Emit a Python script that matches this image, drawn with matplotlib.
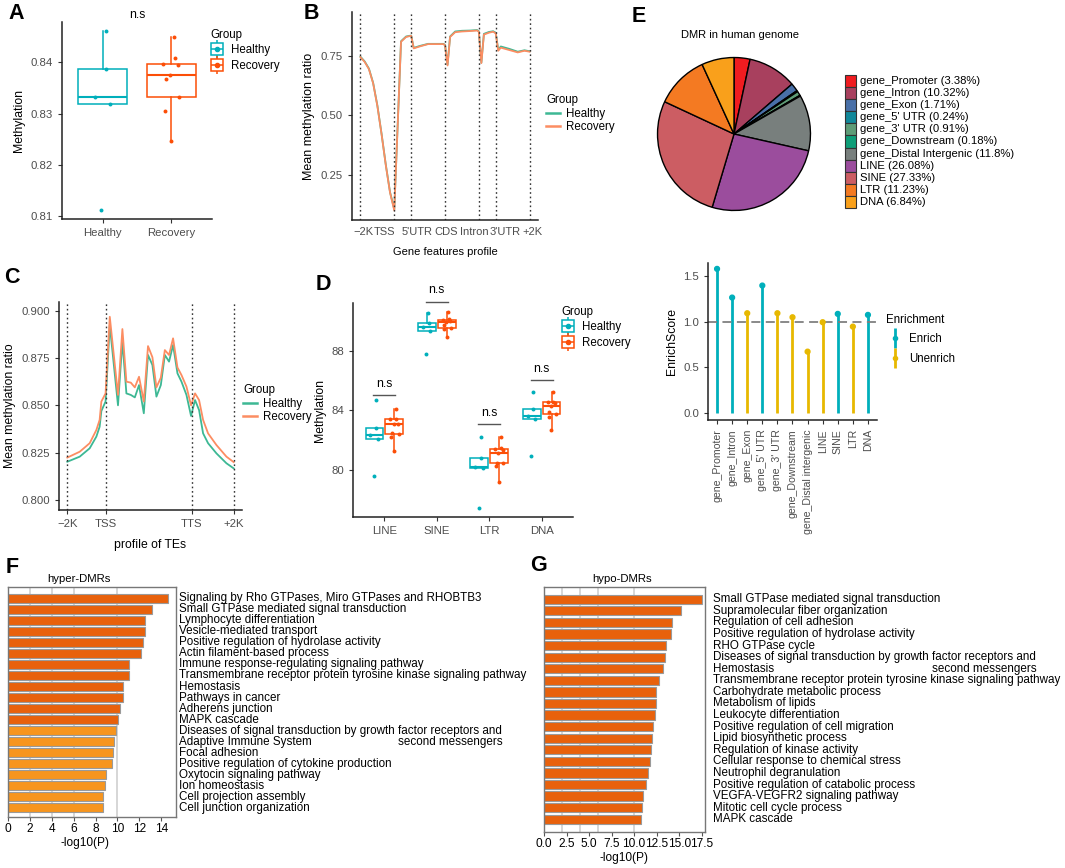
import numpy as np
import matplotlib
matplotlib.use("Agg")
import matplotlib.pyplot as plt
from matplotlib.lines import Line2D
from matplotlib.patches import Rectangle
from matplotlib.legend_handler import HandlerTuple

plt.rcParams['font.family'] = ['Liberation Sans', 'DejaVu Sans']

# ---- data ----
groups = ["Healthy", "Recovery"]
a_healthy = [0.8460, 0.8387, 0.8333, 0.8318, 0.8113]
a_recovery = [0.8448, 0.8408, 0.8397, 0.8395, 0.8375, 0.8368, 0.8332, 0.8305, 0.8247]

b_bounds = [0, 20, 30, 50, 70, 80, 100]
b_ticklabels = ["\u22122K", "TSS", "5'UTR", "CDS", "Intron", "3'UTR", "+2K"]
b_labelpos = [1.8, 14.0, 33.3, 50.6, 67.3, 85.4, 101.8]
b_pos = [0, 2.5, 5, 7.5, 10, 12.5, 15, 17.5, 20, 24, 27, 30, 31.5, 35, 40, 45, 49, 50, 51.5, 53,
         56, 60, 65, 69, 70, 71.5, 73, 76, 78.5, 80, 81.5, 83, 88, 93, 97, 100]
b_recovery = [0.745, 0.725, 0.695, 0.635, 0.54, 0.42, 0.29, 0.175, 0.10, 0.81, 0.83, 0.835, 0.782,
              0.79, 0.80, 0.80, 0.80, 0.795, 0.71, 0.83, 0.85, 0.853, 0.855, 0.857, 0.852, 0.72,
              0.84, 0.848, 0.852, 0.845, 0.772, 0.785, 0.775, 0.765, 0.772, 0.768]
b_healthy = [0.747, 0.727, 0.697, 0.637, 0.542, 0.422, 0.292, 0.177, 0.105, 0.812, 0.832, 0.836, 0.784,
             0.792, 0.801, 0.801, 0.801, 0.797, 0.713, 0.832, 0.853, 0.856, 0.857, 0.859, 0.854, 0.722,
             0.843, 0.851, 0.854, 0.848, 0.775, 0.79, 0.78, 0.768, 0.774, 0.77]

c_ticks = [0, 20, 65, 87]
c_ticklabels = ["\u22122K", "TSS", "TTS", "+2K"]
c_pos = [0, 6.5, 11.7, 15.2, 16.9, 17.8, 20, 22.2, 26.5, 28.8, 30.9, 33.2, 35.3, 37.5, 40, 42.2,
         44.5, 46.6, 48.9, 51, 53.2, 55.3, 57.6, 59.7, 62.3, 64.7, 66.8, 68.9, 71, 73.6, 78, 83.2, 87]
c_recovery = [0.8224, 0.8255, 0.830, 0.837, 0.8423, 0.852, 0.8563, 0.8968, 0.8555, 0.8903, 0.8625,
              0.862, 0.8595, 0.8651, 0.852, 0.8813, 0.8754, 0.8595, 0.8646, 0.8792, 0.8766, 0.8854,
              0.870, 0.866, 0.8599, 0.850, 0.8563, 0.8528, 0.8423, 0.8352, 0.829, 0.8229, 0.820]
c_healthy = [0.8202, 0.8229, 0.8273, 0.8335, 0.8387, 0.847, 0.852, 0.8924, 0.850, 0.884, 0.8563,
             0.8555, 0.8542, 0.8607, 0.8458, 0.8766, 0.8713, 0.8546, 0.8607, 0.8766, 0.8731, 0.8819,
             0.8669, 0.8625, 0.8555, 0.8444, 0.8528, 0.8475, 0.8352, 0.830, 0.8246, 0.8194, 0.8167]

d_classes = ["LINE", "SINE", "LTR", "DNA"]
d_healthy = [[84.7, 82.8, 82.35, 82.06, 79.6],
             [90.53, 89.86, 89.57, 89.35, 87.78],
             [82.24, 80.83, 80.17, 80.11, 77.46],
             [85.22, 84.08, 83.65, 83.43, 80.96]]
d_recovery = [[84.08, 83.45, 83.4, 83.1, 83.07, 82.46, 82.4, 82.24, 81.3],
              [90.58, 90.15, 90.09, 89.97, 89.9, 89.75, 89.52, 89.46, 88.9],
              [82.24, 81.5, 81.41, 81.34, 81.12, 80.5, 80.45, 80.29, 79.17],
              [85.22, 84.59, 84.55, 84.48, 84.3, 83.92, 83.74, 83.58, 82.69]]
d_bracket = [85.0, 91.3, 83.1, 86.05]

pie_labels = ["gene_Promoter", "gene_Intron", "gene_Exon", "gene_5' UTR", "gene_3' UTR",
              "gene_Downstream", "gene_Distal Intergenic", "LINE", "SINE", "LTR", "DNA"]
pie_pct = [3.38, 10.32, 1.71, 0.24, 0.91, 0.18, 11.8, 26.08, 27.33, 11.23, 6.84]
pie_colors = ["#F01C20", "#A8405E", "#4970A8", "#11889A", "#5E9C77", "#0E9E78",
              "#787F7D", "#9B4D9D", "#CC5D63", "#F47A22", "#F9A01B"]

enrich_cats = ["gene_Promoter", "gene_Intron", "gene_Exon", "gene_5' UTR", "gene_3' UTR",
               "gene_Downstream", "gene_Distal intergenic", "LINE", "SINE", "LTR", "DNA"]
enrich_score = [1.576, 1.263, 1.092, 1.394, 1.092, 1.048, 0.673, 0.994, 1.085, 0.946, 1.074]
enrich_state = ["Enrich", "Enrich", "Unenrich", "Enrich", "Unenrich", "Unenrich", "Unenrich",
                "Unenrich", "Enrich", "Unenrich", "Enrich"]

hyper_terms = ["Signaling by Rho GTPases, Miro GTPases and RHOBTB3",
               "Small GTPase mediated signal transduction",
               "Lymphocyte differentiation",
               "Vesicle-mediated transport",
               "Positive regulation of hydrolase activity",
               "Actin filament-based process",
               "Immune response-regulating signaling pathway",
               "Transmembrane receptor protein tyrosine kinase signaling pathway",
               "Hemostasis",
               "Pathways in cancer",
               "Adherens junction",
               "MAPK cascade",
               "Diseases of signal transduction by growth factor receptors and\nsecond messengers",
               "Adaptive Immune System",
               "Focal adhesion",
               "Positive regulation of cytokine production",
               "Oxytocin signaling pathway",
               "Ion homeostasis",
               "Cell projection assembly",
               "Cell junction organization"]
hyper_logp = [14.64, 13.15, 12.51, 12.51, 12.36, 12.14, 11.08, 11.05, 10.5, 10.47,
              10.23, 10.07, 9.83, 9.68, 9.62, 9.46, 8.95, 8.89, 8.64, 8.64]

hypo_terms = ["Small GTPase mediated signal transduction",
              "Supramolecular fiber organization",
              "Regulation of cell adhesion",
              "Positive regulation of hydrolase activity",
              "RHO GTPase cycle",
              "Diseases of signal transduction by growth factor receptors and\nsecond messengers",
              "Hemostasis",
              "Transmembrane receptor protein tyrosine kinase signaling pathway",
              "Carbohydrate metabolic process",
              "Metabolism of lipids",
              "Leukocyte differentiation",
              "Positive regulation of cell migration",
              "Lipid biosynthetic process",
              "Regulation of kinase activity",
              "Cellular response to chemical stress",
              "Neutrophil degranulation",
              "Positive regulation of catabolic process",
              "VEGFA-VEGFR2 signaling pathway",
              "Mitotic cell cycle process",
              "MAPK cascade"]
hypo_logp = [17.54, 15.17, 14.21, 14.06, 13.54, 13.47, 13.17, 12.8, 12.43, 12.39,
             12.32, 12.06, 12.02, 11.84, 11.8, 11.51, 11.32, 10.99, 10.84, 10.77]

# ---- style ----
BOX_C = {"Healthy": "#00AFBB", "Recovery": "#FC4E07"}
LINE_C = {"Healthy": "#3DB894", "Recovery": "#FC8D62"}
ENR_C = {"Enrich": "#00AFBB", "Unenrich": "#E7B800"}
DARK_OR, LIGHT_OR = "#E8610C", "#F7951E"
TICK_FS = 8.2
TITLE_FS = 8.8
LEG_FS = 7.9
TXT = "#4D4D4D"

W, H = 1065, 868
fig = plt.figure(figsize=(W / 100, H / 100), dpi=100)


def px_axes(l, t, r, b):
    return fig.add_axes([l / W, 1 - b / H, (r - l) / W, (b - t) / H])


def fig_xy(x, y):
    return (x / W, 1 - y / H)


def gg_axes(ax):
    for s in ["top", "right"]:
        ax.spines[s].set_visible(False)
    for s in ["left", "bottom"]:
        ax.spines[s].set_linewidth(1.1)
        ax.spines[s].set_color("#222222")
    ax.tick_params(labelsize=TICK_FS, labelcolor=TXT, color="#333333", length=3, width=0.8)


def jitter(n, w):
    return w * np.sin(np.arange(n) * 2.3 + 0.4)


def draw_box(ax, vals, pos, color, width, jw):
    ax.boxplot([vals], positions=[pos], widths=width, showfliers=False, patch_artist=True,
               boxprops=dict(facecolor="white", edgecolor=color, linewidth=1.1),
               medianprops=dict(color=color, linewidth=1.5),
               whiskerprops=dict(color=color, linewidth=1.1),
               capprops=dict(visible=False))
    ax.scatter(pos + jitter(len(vals), jw), vals, s=8, color=color, zorder=4, linewidths=0)


def box_handle(c):
    return (Line2D([], [], color=c, marker="|", markersize=13, ls="none", mew=1.1),
            Line2D([], [], marker="s", markersize=9, mfc="white", mec=c, ls="none", mew=1.1),
            Line2D([], [], color=c, marker="_", markersize=9, ls="none", mew=1.1),
            Line2D([], [], color=c, marker="o", markersize=3, ls="none"))


def group_legend(ax, handles, labels, title, x, y, hl=1.3, ls=0.3):
    ax.legend(handles, labels, title=title,
              handler_map={tuple: HandlerTuple(ndivide=1)}, frameon=False, loc="upper left",
              bbox_to_anchor=fig_xy(x, y), bbox_transform=fig.transFigure, fontsize=LEG_FS + 0.4,
              title_fontsize=LEG_FS + 0.4, handlelength=hl, alignment="left", labelspacing=ls,
              borderaxespad=0, borderpad=0, handletextpad=0.5)


# ---- A ----
axA = px_axes(62, 22, 212, 219)
draw_box(axA, a_healthy, 1, BOX_C["Healthy"], 0.72, 0.12)
draw_box(axA, a_recovery, 2, BOX_C["Recovery"], 0.72, 0.12)
axA.set_xlim(0.4, 2.6)
axA.set_ylim(0.8095, 0.8478)
axA.set_yticks([0.81, 0.82, 0.83, 0.84])
axA.set_xticks([1, 2])
axA.set_xticklabels(groups)
axA.set_ylabel("Methylation", fontsize=TITLE_FS)
gg_axes(axA)
axA.set_title("n.s", fontsize=TITLE_FS, pad=3)
group_legend(axA, [box_handle(BOX_C[g]) for g in groups], groups, "Group", 210, 29)

# ---- B ----
axB = px_axes(352, 12, 538, 220)
axB.plot(b_pos, b_healthy, color=LINE_C["Healthy"], lw=1.3)
axB.plot(b_pos, b_recovery, color=LINE_C["Recovery"], lw=1.3)
for t in b_bounds:
    axB.axvline(t, color="#333333", ls=(0, (1.2, 2)), lw=1)
axB.set_xlim(-5, 105)
axB.set_ylim(0.06, 0.935)
axB.set_yticks([0.25, 0.5, 0.75])
axB.set_xticks(b_labelpos)
axB.set_xticklabels(b_ticklabels)
axB.set_ylabel("Mean methylation ratio", fontsize=TITLE_FS + 0.2)
axB.set_xlabel("Gene features profile", fontsize=LEG_FS + 0.1, labelpad=7)
gg_axes(axB)
axB.tick_params(axis="x", length=0, pad=5, labelsize=8.0)
group_legend(axB, [Line2D([], [], color=LINE_C[g], lw=1.8) for g in groups], groups, "Group",
             546, 94, hl=1.2, ls=0.15)

# ---- C ----
axC = px_axes(59, 302, 242, 510)
axC.plot(c_pos, c_healthy, color=LINE_C["Healthy"], lw=1.3)
axC.plot(c_pos, c_recovery, color=LINE_C["Recovery"], lw=1.3)
for t in c_ticks:
    axC.axvline(t, color="#333333", ls=(0, (1.2, 2)), lw=1)
axC.set_xlim(-4.35, 91.35)
axC.set_ylim(0.7947, 0.9046)
axC.set_yticks([0.8, 0.825, 0.85, 0.875, 0.9])
axC.set_yticklabels(["0.800", "0.825", "0.850", "0.875", "0.900"])
axC.set_xticks(c_ticks)
axC.set_xticklabels(c_ticklabels)
axC.set_ylabel("Mean methylation ratio", fontsize=TITLE_FS)
axC.set_xlabel("profile of TEs", fontsize=TITLE_FS, labelpad=7)
gg_axes(axC)
group_legend(axC, [Line2D([], [], color=LINE_C[g], lw=1.8) for g in groups], groups, "Group",
             243, 384, hl=1.2, ls=0.15)

# ---- D ----
axD = px_axes(353, 303, 573, 517)
for i, cls in enumerate(d_classes):
    x = i + 1
    draw_box(axD, d_healthy[i], x - 0.19, BOX_C["Healthy"], 0.34, 0.08)
    draw_box(axD, d_recovery[i], x + 0.19, BOX_C["Recovery"], 0.34, 0.08)
    axD.plot([x - 0.21, x + 0.21], [d_bracket[i]] * 2, color="#555555", lw=1, clip_on=False)
    axD.text(x, d_bracket[i] + 0.35, "n.s", ha="center", va="bottom", fontsize=TITLE_FS)
axD.set_xlim(0.4, 4.6)
axD.set_ylim(76.85, 91.2)
axD.set_yticks([80, 84, 88])
axD.set_xticks(range(1, 5))
axD.set_xticklabels(d_classes)
axD.set_ylabel("Methylation", fontsize=TITLE_FS)
gg_axes(axD)
group_legend(axD, [box_handle(BOX_C[g]) for g in groups], groups, "Group", 561, 306)

# ---- E pie ----
axP = px_axes(656, 56, 812, 212)
axP.pie(pie_pct, colors=pie_colors, startangle=90, counterclock=False, radius=1,
        wedgeprops=dict(edgecolor="black", linewidth=1))
axP.set_aspect("equal")
axP.set_xlim(-1.02, 1.02)
axP.set_ylim(-1.02, 1.02)
fig.text(*fig_xy(740, 35), "DMR in human genome", ha="center", va="center", fontsize=8.0)
# legend drawn as a tight stack of squares, like the source
for i, (lab, pct, col) in enumerate(zip(pie_labels, pie_pct, pie_colors)):
    yc = 81 + 12.1 * i
    x0, y0 = fig_xy(845, yc + 6)
    fig.patches.append(Rectangle((x0, y0), 11 / W, 12.1 / H, transform=fig.transFigure,
                                 facecolor=col, edgecolor="#333333", lw=0.8))
    fig.text(*fig_xy(860, yc), "%s (%g%%)" % (lab, pct), ha="left", va="center", fontsize=8.1)

# ---- E lollipop ----
axL = px_axes(708, 263, 877, 420)
ex = np.arange(1, len(enrich_cats) + 1)
ecol = [ENR_C[s] for s in enrich_state]
axL.vlines(ex, 0, enrich_score, colors=ecol, lw=2)
axL.scatter(ex, enrich_score, s=12, color=ecol, zorder=3)
axL.axhline(1.0, color="#808080", ls=(0, (5, 3)), lw=1.3)
axL.set_xlim(0.4, len(enrich_cats) + 0.6)
axL.set_ylim(-0.073, 1.64)
axL.set_yticks([0, 0.5, 1.0, 1.5])
axL.set_yticklabels(["0.0", "0.5", "1.0", "1.5"])
axL.set_xticks(ex)
axL.set_xticklabels(enrich_cats, rotation=90)
axL.set_ylabel("EnrichScore", fontsize=TITLE_FS)
gg_axes(axL)
axL.tick_params(axis="x", labelsize=7.6)
enr_handles = [(Line2D([], [], color=ENR_C[s], marker="|", markersize=14, mew=2, ls="none"),
                Line2D([], [], color=ENR_C[s], marker="o", markersize=3, ls="none"))
               for s in ["Enrich", "Unenrich"]]
group_legend(axL, enr_handles, ["Enrich", "Unenrich"], "Enrichment", 886, 314, hl=1.5, ls=0.65)


# ---- F / G ----
def go_panel(ax, terms, vals, xmax, xticks, xticklabels, header, header_x, row_px, text_dx):
    rows = np.arange(len(vals))
    cols = [DARK_OR if v >= 10 else LIGHT_OR for v in vals]
    for g in [2, 4, 6, 10]:
        ax.axvline(g, color="#D0D0D0", lw=1.2, zorder=0)
    ax.barh(rows, vals, height=0.8, color=cols, edgecolor="#9A9A9A", linewidth=0.8, zorder=2)
    ax.set_xlim(0, xmax)
    ax.set_yticks([])
    ax.set_xticks(xticks)
    ax.set_xticklabels(xticklabels)
    ax.tick_params(axis="x", labelsize=8.6, length=3, color="#555555", pad=1.5)
    for s in ax.spines.values():
        s.set_color("#777777")
        s.set_linewidth(1)
    ax.set_xlabel("-log10(P)", fontsize=8.6, labelpad=1)
    ax.text(header_x, 1.012, header, transform=ax.transAxes, ha="center", va="bottom",
            fontsize=8.2)
    for r, term in zip(rows, terms):
        parts = term.split("\n")
        t = ax.text(text_dx, r, parts[0], transform=ax.get_yaxis_transform(), ha="left",
                    va="center", fontsize=8.4, color="black")
        if len(parts) > 1:
            ax.annotate(parts[1], xy=(1, 0), xycoords=t, xytext=(0, -row_px),
                        textcoords="offset pixels", ha="right", va="bottom", fontsize=8.4)


axF = px_axes(8, 587, 176, 817)
go_panel(axF, hyper_terms, hyper_logp, 15.35, range(0, 15, 2), [str(v) for v in range(0, 15, 2)],
         "hyper-DMRs", (79 - 8) / 168, 11.02, 1.02)
axF.set_ylim(19.84, -1.03)
axF.xaxis.set_label_coords((85 - 8) / 168, -0.085)

axG = px_axes(544, 587, 705, 832)
gt = np.arange(0, 17.6, 2.5)
go_panel(axG, hypo_terms, hypo_logp, 17.87, gt, ["%.1f" % v for v in gt], "hypo-DMRs",
         (622 - 544) / 161, 11.58, 1.052)
axG.set_ylim(20.1, -1.06)

# panel letters
for letter, x, y in [("A", 8, 19), ("B", 304, 19), ("E", 632, 22), ("C", 4, 283),
                     ("D", 316, 290), ("F", 6, 573), ("G", 530, 571)]:
    fig.text(*fig_xy(x, y), letter, fontsize=15.5, fontweight="bold", ha="left", va="baseline")

fig.savefig("out.png", dpi=100)
